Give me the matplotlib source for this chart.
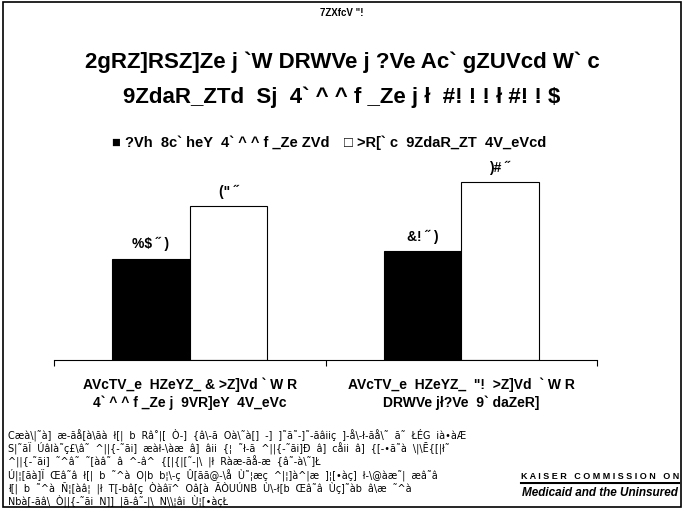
import matplotlib
matplotlib.use("Agg")
import matplotlib.pyplot as plt
from matplotlib.patches import Rectangle
from matplotlib.lines import Line2D
import numpy as np

plt.rcParams["font.family"] = ["Liberation Sans", "DejaVu Sans"]

fig_label = '7ZXfcV "!'
title_lines = ["2gRZ]RSZ]Ze j `W DRWVe j ?Ve Ac` gZUVcd W` c",
               "9ZdaR_ZTd  Sj  4` ^ ^ f _Ze j ł  #! ! ! ł #! ! $"]
series_names = ["?Vh  8c` heY  4` ^ ^ f _Ze ZVd", ">R[` c  9ZdaR_ZT  4V_eVcd"]
categories = ["AVcTV_e  HZeYZ_ & >Z]Vd ` W R\n4` ^ ^ f _Ze j  9VR]eY  4V_eVc",
              'AVcTV_e  HZeYZ_  "!  >Z]Vd  ` W R\nDRWVe jł?Ve  9` daZeR]']
new_growth = [46.7, 50.2]
major_centers = [71.0, 82.0]
new_growth_labels = ["%$ ˝ )", "&! ˝ )"]
major_labels = ['(" ˝', ")# ˝"]
notes = [
    "Cæà\\|˜à] æ-ãå[à\\ãà ł[| b Râ˚|[ Ò-] {â\\-ã Oà\\˜à[] -] ]˜ã˜-]˜-ãâiiç ]-å\\-ł-ãå\\˜ ã˜ ŁÉG ià•àÆ",
    "S|˜ãÏ Úâlà˜ç£\\â˜ ^||{-˜ãi] æàł-\\àæ â] âii {¦ ˜ł-ã ^||{-˜ãi]Ð â] cåii â] {[-•ã˜à \\|\\Ē{[|ł˜",
    "^||{-˜ãi] ˜^â˜ ˜[àâ˜ â ^-â^ {[|{|[˜-|\\ |ł Ràæ-ãå-æ {â˜-à\\˜]Ł",
    "Ú|¦[ãà]Ï Œâ˜â ł[| b ˜^à O|b b¦\\-ç Û[ãã@-\\å Ù˜¦æç ^|¦]à^|æ ]¦[•àç] ł-\\@àæ˜| æâ˜â",
    "ł[| b ˜^à Ñ¦[àâ¦ |ł T[-bâ[ç Òàâï^ Oâ[à ÃÒUÚNB Ù\\-ł[b Œâ˜â Ùç]˜àb â\\æ ˜^à",
    "Nbà[-ãâ\\ Ò||{-˜ãi N]] |ã-â˜-|\\ N\\\\¦âi Ù¦[•àçŁ",
]
logo_top = "K A I S E R   C O M M I S S I O N   O N"
logo_bottom = "Medicaid and the Uninsured"

W, H = 684, 510
fig = plt.figure(figsize=(W / 100, H / 100), dpi=100)
fig.patch.set_facecolor("white")

# outer frame
fig.add_artist(Rectangle((3 / W, 2 / H), 1 - 6 / W, 1 - 5 / H, transform=fig.transFigure,
                         fill=False, edgecolor="black", linewidth=1.2))

fig.text(0.5, 1 - 13 / H, fig_label, ha="center", va="center", fontsize=7, fontweight="bold")
fig.text(0.5, 1 - 62 / H, title_lines[0], ha="center", va="center", fontsize=16, fontweight="bold")
fig.text(0.5, 1 - 97 / H, title_lines[1], ha="center", va="center", fontsize=16, fontweight="bold")

# legend drawn as glyph + name
fig.text(112 / W, 1 - 143 / H, "■ " + series_names[0], ha="left", va="center",
         fontsize=10.5, fontweight="bold")
fig.text(344 / W, 1 - 143 / H, "□ " + series_names[1], ha="left", va="center",
         fontsize=10.5, fontweight="bold")

ax_left, ax_right = 54 / W, 597 / W
base = 1 - 361 / H
ax = fig.add_axes([ax_left, base, ax_right - ax_left, 217 / H])
x = np.arange(len(categories))
bw = 0.285
b1 = ax.bar(x - bw / 2, new_growth, bw, color="black", edgecolor="black", linewidth=0.8)
b2 = ax.bar(x + bw / 2, major_centers, bw, color="white", edgecolor="black", linewidth=0.8)
for bars, labels in ((b1, new_growth_labels), (b2, major_labels)):
    for rect, lab in zip(bars, labels):
        ax.annotate(lab, (rect.get_x() + rect.get_width() / 2, rect.get_height()),
                    xytext=(0, 11), textcoords="offset points", ha="center", va="center",
                    fontsize=10, fontweight="bold")

ax.set_xlim(-0.5, len(categories) - 0.5)
ax.set_ylim(0, 100)
ax.set_xticks(x)
ax.set_xticklabels(categories, fontsize=10, fontweight="bold", linespacing=1.25)
ax.tick_params(axis="x", which="major", length=0, pad=12)
ax.set_xticks([-0.5, 0.5, 1.5], minor=True)
ax.tick_params(axis="x", which="minor", length=4, width=0.8, direction="out")
ax.set_yticks([])
for side in ("top", "right", "left"):
    ax.spines[side].set_visible(False)
ax.spines["bottom"].set_linewidth(0.8)
ax.patch.set_alpha(0)

# source notes, bottom left
for i, line in enumerate(notes):
    fig.text(8 / W, 1 - (435 + 13.2 * i) / H, line.replace(" ", "  "), ha="left", va="center",
             fontsize=6.9, family=["DejaVu Sans"])

fig.text(600 / W, 1 - 477 / H, logo_top, ha="center", va="center", fontsize=6.5, fontweight="bold",
         bbox=dict(facecolor="white", edgecolor="none", pad=1))
fig.add_artist(Line2D([521 / W, 679 / W], [1 - 484 / H, 1 - 484 / H], transform=fig.transFigure,
                      color="black", linewidth=1.5))
fig.text(600 / W, 1 - 493 / H, logo_bottom, ha="center", va="center", fontsize=8.5,
         fontweight="bold", fontstyle="italic")

fig.savefig("out.png", dpi=100)
